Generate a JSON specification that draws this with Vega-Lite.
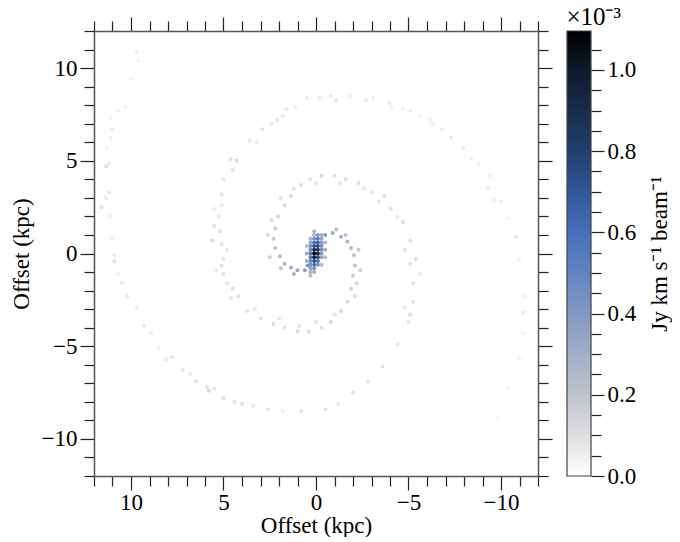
{
  "$schema": "https://vega.github.io/schema/vega-lite/v6.json",
  "background": "white",
  "padding": {"left": 10, "top": 5, "right": 0, "bottom": 0},
  "datasets": {
    "moment0": [
      {"x":-0.1,"y":1.0,"v":0.4},{"x":0.1,"y":1.0,"v":0.3},
      {"x":-0.3,"y":0.8,"v":0.35},{"x":-0.1,"y":0.8,"v":0.55},{"x":0.1,"y":0.8,"v":0.45},
      {"x":-0.3,"y":0.6,"v":0.4},{"x":-0.1,"y":0.6,"v":0.65},{"x":0.1,"y":0.6,"v":0.6},{"x":0.3,"y":0.6,"v":0.35},
      {"x":-0.3,"y":0.4,"v":0.45},{"x":-0.1,"y":0.4,"v":0.75},{"x":0.1,"y":0.4,"v":0.72},{"x":0.3,"y":0.4,"v":0.45},
      {"x":-0.3,"y":0.2,"v":0.45},{"x":-0.1,"y":0.2,"v":0.85},{"x":0.1,"y":0.2,"v":0.92},{"x":0.3,"y":0.2,"v":0.5},
      {"x":-0.3,"y":0.0,"v":0.4},{"x":-0.1,"y":0.0,"v":0.9},{"x":0.1,"y":0.0,"v":1.09},{"x":0.3,"y":0.0,"v":0.55},
      {"x":-0.3,"y":-0.2,"v":0.35},{"x":-0.1,"y":-0.2,"v":0.75},{"x":0.1,"y":-0.2,"v":0.95},{"x":0.3,"y":-0.2,"v":0.55},
      {"x":-0.1,"y":-0.4,"v":0.6},{"x":0.1,"y":-0.4,"v":0.75},{"x":0.3,"y":-0.4,"v":0.5},
      {"x":-0.1,"y":-0.6,"v":0.45},{"x":0.1,"y":-0.6,"v":0.6},{"x":0.3,"y":-0.6,"v":0.45},
      {"x":0.1,"y":-0.8,"v":0.45},{"x":0.3,"y":-0.8,"v":0.35},
      {"x":0.1,"y":-1.0,"v":0.3},{"x":0.3,"y":-1.0,"v":0.28},
      {"x":0.5,"y":0.0,"v":0.3},{"x":-0.5,"y":0.2,"v":0.3},{"x":0.5,"y":-0.4,"v":0.3},{"x":-0.5,"y":0.6,"v":0.25},{"x":0.3,"y":0.8,"v":0.28},{"x":-0.3,"y":-0.6,"v":0.25},{"x":0.5,"y":0.4,"v":0.22},{"x":-0.5,"y":-0.2,"v":0.22},{"x":0.1,"y":1.2,"v":0.25},{"x":0.3,"y":-1.2,"v":0.22},{"x":-0.3,"y":1.0,"v":0.3},

      {"x":-0.5,"y":1.0,"v":0.4},{"x":-0.9,"y":1.1,"v":0.33},{"x":-1.35,"y":0.9,"v":0.3},{"x":-1.7,"y":0.65,"v":0.28},{"x":-1.9,"y":0.3,"v":0.26},{"x":-2.05,"y":-0.1,"v":0.22},{"x":-2.1,"y":-0.65,"v":0.2},{"x":-2.0,"y":-1.2,"v":0.17},{"x":-1.9,"y":-1.9,"v":0.15},{"x":-1.7,"y":-2.6,"v":0.13},{"x":-1.35,"y":-3.1,"v":0.12},{"x":-0.8,"y":-3.7,"v":0.12},{"x":-0.3,"y":-4.0,"v":0.1},{"x":0.4,"y":-4.2,"v":0.1},{"x":1.0,"y":-4.2,"v":0.12},{"x":1.7,"y":-4.0,"v":0.1},{"x":2.3,"y":-3.8,"v":0.11},{"x":3.0,"y":-3.5,"v":0.1},{"x":3.7,"y":-3.1,"v":0.09},{"x":4.2,"y":-2.3,"v":0.09},{"x":4.5,"y":-1.9,"v":0.1},{"x":4.8,"y":-1.6,"v":0.08},{"x":5.0,"y":-1.1,"v":0.09},{"x":5.1,"y":-0.65,"v":0.1},{"x":5.0,"y":-0.3,"v":0.08},{"x":5.1,"y":0.5,"v":0.09},{"x":5.6,"y":0.7,"v":0.12},{"x":5.2,"y":1.2,"v":0.1},{"x":5.5,"y":1.5,"v":0.09},{"x":5.25,"y":2.0,"v":0.08},{"x":5.1,"y":2.6,"v":0.07},{"x":5.1,"y":3.2,"v":0.09},{"x":5.0,"y":4.0,"v":0.08},
      {"x":-1.1,"y":1.3,"v":0.25},{"x":-1.6,"y":1.0,"v":0.22},{"x":-2.3,"y":0.2,"v":0.18},{"x":-2.4,"y":-0.9,"v":0.14},{"x":-2.2,"y":-1.6,"v":0.13},{"x":-2.1,"y":-2.3,"v":0.1},{"x":-1.0,"y":-3.3,"v":0.09},{"x":0.0,"y":-3.7,"v":0.09},{"x":0.9,"y":-3.9,"v":0.08},{"x":2.0,"y":-3.5,"v":0.08},{"x":3.3,"y":-3.0,"v":0.08},{"x":4.6,"y":-2.4,"v":0.07},{"x":5.4,"y":-0.9,"v":0.07},{"x":4.8,"y":0.2,"v":0.07},{"x":5.5,"y":2.4,"v":0.06},

      {"x":0.45,"y":-0.65,"v":0.42},{"x":0.6,"y":-0.9,"v":0.38},{"x":1.0,"y":-0.9,"v":0.34},{"x":1.35,"y":-0.75,"v":0.3},{"x":1.7,"y":-0.55,"v":0.27},{"x":1.95,"y":-0.15,"v":0.24},{"x":2.2,"y":0.3,"v":0.2},{"x":2.3,"y":0.8,"v":0.18},{"x":2.2,"y":1.35,"v":0.15},{"x":2.05,"y":2.0,"v":0.14},{"x":1.7,"y":2.6,"v":0.12},{"x":1.35,"y":3.1,"v":0.12},{"x":0.8,"y":3.7,"v":0.11},{"x":0.3,"y":4.0,"v":0.1},{"x":-0.3,"y":4.2,"v":0.12},{"x":-1.0,"y":4.2,"v":0.1},{"x":-1.6,"y":4.0,"v":0.11},{"x":-2.3,"y":3.8,"v":0.1},{"x":-3.0,"y":3.3,"v":0.09},{"x":-3.7,"y":3.1,"v":0.1},{"x":-4.05,"y":2.4,"v":0.09},{"x":-4.7,"y":1.7,"v":0.1},{"x":-5.1,"y":0.7,"v":0.1},{"x":-5.4,"y":-0.3,"v":0.11},{"x":-5.1,"y":-0.55,"v":0.09},{"x":-5.25,"y":-1.6,"v":0.08},{"x":-5.25,"y":-2.6,"v":0.09},{"x":-5.1,"y":-3.3,"v":0.1},{"x":-5.0,"y":-3.7,"v":0.08},{"x":-4.4,"y":-4.9,"v":0.07},
      {"x":1.2,"y":-1.1,"v":0.26},{"x":1.9,"y":-0.8,"v":0.2},{"x":2.5,"y":-0.2,"v":0.15},{"x":2.6,"y":1.0,"v":0.13},{"x":2.4,"y":1.8,"v":0.12},{"x":1.9,"y":3.0,"v":0.09},{"x":1.2,"y":3.5,"v":0.09},{"x":0.0,"y":3.8,"v":0.08},{"x":-1.3,"y":3.8,"v":0.08},{"x":-2.6,"y":3.5,"v":0.07},{"x":-3.4,"y":2.8,"v":0.08},{"x":-4.4,"y":2.0,"v":0.07},{"x":-4.8,"y":0.2,"v":0.08},{"x":-5.6,"y":-1.1,"v":0.07},{"x":-4.8,"y":-2.9,"v":0.07},

      {"x":-3.6,"y":-6.1,"v":0.1},{"x":-2.8,"y":-6.9,"v":0.08},{"x":-2.0,"y":-7.5,"v":0.1},{"x":-1.2,"y":-8.1,"v":0.07},{"x":-0.5,"y":-8.4,"v":0.09},{"x":0.8,"y":-8.5,"v":0.08},{"x":1.8,"y":-8.5,"v":0.06},{"x":2.6,"y":-8.4,"v":0.08},{"x":3.4,"y":-8.2,"v":0.07},{"x":4.0,"y":-8.1,"v":0.1},{"x":4.4,"y":-8.0,"v":0.08},{"x":5.0,"y":-7.8,"v":0.1},{"x":5.5,"y":-7.3,"v":0.09},{"x":5.8,"y":-7.4,"v":0.12},{"x":5.9,"y":-7.2,"v":0.08},{"x":6.5,"y":-6.9,"v":0.09},{"x":6.8,"y":-6.5,"v":0.07},{"x":7.2,"y":-6.3,"v":0.08},{"x":7.8,"y":-5.6,"v":0.09},{"x":8.1,"y":-5.7,"v":0.07},{"x":8.5,"y":-5.1,"v":0.05},{"x":8.9,"y":-4.3,"v":0.06},{"x":9.3,"y":-3.9,"v":0.07},{"x":9.7,"y":-2.9,"v":0.06},{"x":10.2,"y":-2.3,"v":0.07},{"x":10.5,"y":-1.6,"v":0.06},{"x":10.7,"y":-1.1,"v":0.05},{"x":10.9,"y":-0.4,"v":0.09},{"x":10.9,"y":-0.1,"v":0.07},{"x":11.0,"y":0.8,"v":0.05},{"x":11.1,"y":2.0,"v":0.06},{"x":11.6,"y":2.5,"v":0.1},{"x":11.35,"y":3.0,"v":0.07},{"x":11.2,"y":3.3,"v":0.08},{"x":11.35,"y":4.7,"v":0.09},{"x":11.2,"y":4.85,"v":0.07},{"x":11.3,"y":5.7,"v":0.05},{"x":11.1,"y":6.25,"v":0.05},{"x":11.0,"y":6.7,"v":0.06},{"x":11.1,"y":7.3,"v":0.04},{"x":10.7,"y":7.7,"v":0.05},{"x":10.3,"y":7.9,"v":0.04},{"x":10.0,"y":9.4,"v":0.04},{"x":9.6,"y":10.4,"v":0.04},{"x":9.7,"y":10.9,"v":0.05},

      {"x":4.3,"y":5.0,"v":0.12},{"x":4.5,"y":4.5,"v":0.08},{"x":4.6,"y":5.1,"v":0.1},{"x":3.6,"y":6.1,"v":0.08},{"x":3.2,"y":6.0,"v":0.07},{"x":2.9,"y":6.7,"v":0.08},{"x":2.4,"y":7.0,"v":0.07},{"x":2.1,"y":7.2,"v":0.08},{"x":1.8,"y":7.4,"v":0.06},{"x":1.6,"y":7.8,"v":0.07},{"x":1.1,"y":7.9,"v":0.06},{"x":0.5,"y":8.4,"v":0.07},{"x":-0.2,"y":8.4,"v":0.06},{"x":-0.8,"y":8.5,"v":0.07},{"x":-1.1,"y":8.25,"v":0.08},{"x":-1.9,"y":8.5,"v":0.05},{"x":-2.7,"y":8.25,"v":0.06},{"x":-3.1,"y":8.4,"v":0.05},{"x":-3.95,"y":8.1,"v":0.06},{"x":-4.1,"y":7.9,"v":0.05},{"x":-4.7,"y":7.8,"v":0.05},{"x":-5.1,"y":7.7,"v":0.06},{"x":-5.6,"y":7.4,"v":0.04},{"x":-6.2,"y":7.2,"v":0.06},{"x":-6.3,"y":7.0,"v":0.05},{"x":-6.8,"y":6.7,"v":0.06},{"x":-7.3,"y":6.25,"v":0.07},{"x":-7.95,"y":5.7,"v":0.07},{"x":-8.4,"y":5.1,"v":0.05},{"x":-8.8,"y":4.85,"v":0.05},{"x":-9.4,"y":4.2,"v":0.04},{"x":-9.3,"y":3.5,"v":0.05},{"x":-9.6,"y":2.9,"v":0.06},{"x":-10.0,"y":2.8,"v":0.06},{"x":-10.4,"y":1.9,"v":0.04},{"x":-10.8,"y":0.9,"v":0.07},{"x":-11.0,"y":-0.3,"v":0.04},{"x":-11.3,"y":-2.3,"v":0.05},{"x":-11.2,"y":-3.2,"v":0.07},{"x":-11.2,"y":-4.3,"v":0.04},{"x":-11.0,"y":-5.7,"v":0.04},{"x":-10.4,"y":-7.3,"v":0.03},{"x":-9.8,"y":-8.9,"v":0.03}
    ],
    "cbar": [{"lo": 0, "hi": 1.096}]
  },
  "config": {
    "view": {"stroke": null},
    "font": "Liberation Serif",
    "concat": {"spacing": 13},
    "axis": {
      "grid": false,
      "labelFont": "Liberation Serif",
      "labelFontSize": 23,
      "labelColor": "#000000",
      "titleFont": "Liberation Serif",
      "titleFontSize": 23,
      "titleFontWeight": "normal",
      "titleColor": "#000000",
      "domainColor": "#555555",
      "domainWidth": 1.5,
      "tickColor": "#222222",
      "tickWidth": 1.2,
      "labelPadding": 3,
      "labelFlush": false,
      "labelOverlap": false
    }
  },
  "hconcat": [
    {
      "width": 444,
      "height": 445,
      "data": {"name": "moment0"},
      "layer": [
        {
          "mark": {"type": "circle", "size": 16, "opacity": 1},
          "encoding": {
            "x": {"field": "x", "type": "quantitative",
              "scale": {"domain": [-12, 12], "reverse": true, "nice": false, "zero": false},
              "axis": {"orient": "bottom", "title": "Offset (kpc)", "values": [-12,-11,-10,-9,-8,-7,-6,-5,-4,-3,-2,-1,0,1,2,3,4,5,6,7,8,9,10,11,12],
                "format": "d", "labelExpr": "datum.value % 5 === 0 ? datum.label : ''",
                "tickSize": {"condition": {"test": "datum.value % 5 === 0", "value": 14}, "value": 10},
                "labelPadding": 1, "titlePadding": 0}},
            "y": {"field": "y", "type": "quantitative",
              "scale": {"domain": [-12, 12], "nice": false, "zero": false},
              "axis": {"orient": "left", "title": "Offset (kpc)", "values": [-12,-11,-10,-9,-8,-7,-6,-5,-4,-3,-2,-1,0,1,2,3,4,5,6,7,8,9,10,11,12],
                "format": "d", "labelExpr": "datum.value % 5 === 0 ? datum.label : ''",
                "tickSize": {"condition": {"test": "datum.value % 5 === 0", "value": 14}, "value": 10},
                "titlePadding": 8}},
            "color": {"field": "v", "type": "quantitative",
              "scale": {"domain": [0, 0.1, 0.2, 0.3, 0.4, 0.5, 0.6, 0.7, 0.8, 0.9, 1.0, 1.096],
                "range": ["#ffffff", "#dedfe2", "#bfc3cc", "#a1afc8", "#8398c4", "#6384c2", "#4570b8", "#2f5799", "#213f6c", "#172c4c", "#0e1a2c", "#000000"],
                "interpolate": "rgb"},
              "legend": null},
            "order": {"field": "v", "type": "quantitative"}
          }
        },
        {
          "mark": {"type": "point", "opacity": 0},
          "encoding": {
            "x": {"field": "x", "type": "quantitative",
              "axis": {"orient": "top", "title": null, "values": [-12,-11,-10,-9,-8,-7,-6,-5,-4,-3,-2,-1,0,1,2,3,4,5,6,7,8,9,10,11,12],
                "labels": false,
                "tickSize": {"condition": {"test": "datum.value % 5 === 0", "value": 14}, "value": 10}}},
            "y": {"field": "y", "type": "quantitative",
              "axis": {"orient": "right", "title": null, "values": [-12,-11,-10,-9,-8,-7,-6,-5,-4,-3,-2,-1,0,1,2,3,4,5,6,7,8,9,10,11,12],
                "labels": false,
                "tickSize": {"condition": {"test": "datum.value % 5 === 0", "value": 14}, "value": 10}}}
          }
        }
      ],
      "resolve": {"axis": {"x": "independent", "y": "independent"}}
    },
    {
      "width": 24,
      "height": 445,
      "data": {"name": "cbar"},
      "title": {"text": "×10⁻³", "anchor": "start", "font": "Liberation Serif", "fontSize": 25, "fontWeight": "normal", "offset": 0, "color": "#000000"},
      "mark": {"type": "rect", "stroke": "#444444", "strokeWidth": 1.2,
        "color": {"gradient": "linear", "x1": 0, "y1": 1, "x2": 0, "y2": 0,
          "stops": [
            {"offset": 0, "color": "#ffffff"},
            {"offset": 0.0912, "color": "#dedfe2"},
            {"offset": 0.1825, "color": "#bfc3cc"},
            {"offset": 0.2737, "color": "#a1afc8"},
            {"offset": 0.365, "color": "#8398c4"},
            {"offset": 0.4562, "color": "#6384c2"},
            {"offset": 0.5474, "color": "#4570b8"},
            {"offset": 0.6387, "color": "#2f5799"},
            {"offset": 0.7299, "color": "#213f6c"},
            {"offset": 0.8212, "color": "#172c4c"},
            {"offset": 0.9124, "color": "#0e1a2c"},
            {"offset": 1, "color": "#000000"}
          ]}},
      "encoding": {
        "y": {"field": "lo", "type": "quantitative",
          "scale": {"domain": [0, 1.096], "nice": false, "zero": false},
          "axis": {"orient": "right", "title": "Jy km s⁻¹ beam⁻¹", "titleAngle": 270, "titlePadding": 36,
            "domain": false,
            "values": [0,0.05,0.1,0.15,0.2,0.25,0.3,0.35,0.4,0.45,0.5,0.55,0.6,0.65,0.7,0.75,0.8,0.85,0.9,0.95,1.0,1.05],
            "format": ".1f",
            "labelExpr": "abs(round(datum.value * 20)) % 4 === 0 ? datum.label : ''",
            "tickSize": {"condition": {"test": "abs(round(datum.value * 20)) % 4 === 0", "value": 13}, "value": 10}}},
        "y2": {"field": "hi"}
      }
    }
  ]
}
